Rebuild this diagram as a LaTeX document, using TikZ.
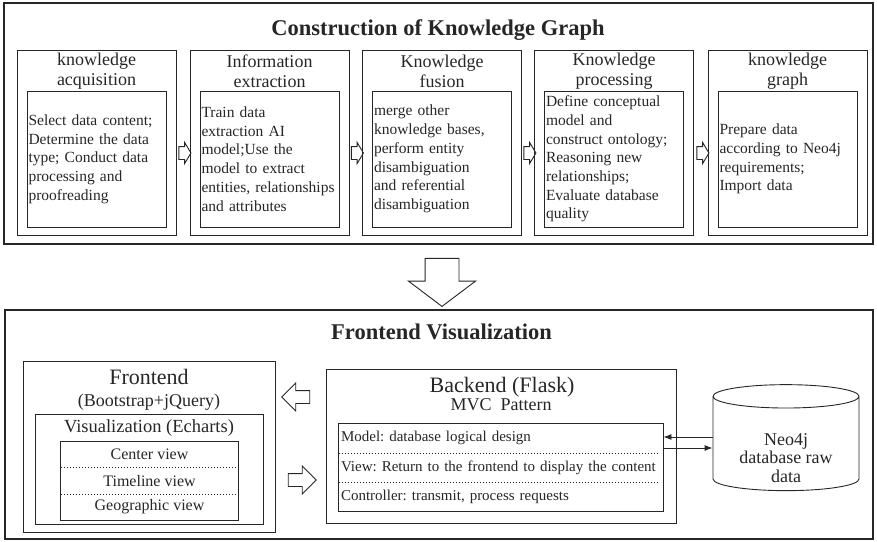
\documentclass[tikz,border=0pt]{standalone}
\usepackage{fontspec}
\setmainfont{Liberation Serif}
\usetikzlibrary{positioning,calc,arrows.meta,shapes.arrows,shapes.geometric}
\frenchspacing
\hyphenpenalty=10000

\begin{document}
\begin{tikzpicture}[x=1pt, y=-1pt, line width=0.9pt, color=black!85,
  frame/.style={draw, line width=1.1pt, inner sep=0pt},
  stage/.style={draw, minimum width=159pt, minimum height=185pt, inner sep=0pt},
  stagehead/.style={align=center, inner sep=0pt, font=\fontsize{18}{20}\selectfont},
  stagetext/.style={draw, minimum width=139pt, minimum height=136pt, text width=136pt, inner xsep=1.5pt, align=left, font=\fontsize{15.5}{18.7}\selectfont},
  smallarrow/.style={draw, single arrow, single arrow tip angle=118, single arrow head extend=4pt, inner xsep=0pt, inner ysep=6pt, minimum height=12pt},
  bigarrow/.style={draw, single arrow, single arrow tip angle=106, single arrow head extend=16.5pt, inner xsep=0pt, inner ysep=16.5pt, minimum height=48pt, rotate=-90},
  sidearrow/.style={draw, single arrow, single arrow tip angle=90, single arrow head extend=7.5pt, inner xsep=0pt, inner ysep=6pt, minimum height=28pt},
  title/.style={inner sep=0pt, font=\fontsize{22.5}{26}\selectfont\bfseries},
  box/.style={draw, inner sep=0pt},
  viewrow/.style={minimum width=177pt, minimum height=25.3pt, inner sep=0pt, font=\fontsize{16}{18}\selectfont},
  mvcrow/.style={minimum width=324pt, minimum height=28.3pt, text width=320pt, inner xsep=2pt, inner ysep=0pt, align=left, font=\fontsize{15}{17}\selectfont},
  sep/.style={line width=0.6pt, dash pattern=on 1.5pt off 1.5pt},
  link/.style={-{Latex[length=8pt,width=6pt]}}]
\useasboundingbox (0,0) rectangle (877,541);

\coordinate (KA) at (96.5,142.5);
\coordinate (IE) at (269.5,142.5);
\coordinate (KF) at (442,142.5);
\coordinate (KP) at (614,142.5);
\coordinate (KG) at (787.5,142.5);

\node [frame, minimum width=869pt, minimum height=241pt] (top) at (438.5,123.5) {};
\node [title] (toptitle) at (438,30) {Construction of Knowledge Graph};

\node [stage] (ka) at (KA) {};
\node [stage] (ie) at (IE) {};
\node [stage] (kf) at (KF) {};
\node [stage] (kp) at (KP) {};
\node [stage] (kg) at (KG) {};

\node [stagehead] (kah) at (96.5,71) {knowledge\\acquisition};
\node [stagehead] (ieh) at (269.5,71) {Information\\extraction};
\node [stagehead] (kfh) at (442,71) {Knowledge\\fusion};
\node [stagehead] (kph) at (614,71) {Knowledge\\processing};
\node [stagehead] (kgh) at (787.5,71) {knowledge\\graph};

\node [stagetext] (kat) at (96.5,159) {Select data content;\\Determine the data\\type; Conduct data\\processing and\\proofreading};
\node [stagetext] (iet) at (269.5,159) {Train data\\extraction AI\\model;Use the\\model to extract\\entities, relationships\\and attributes};
\node [stagetext] (kft) at (442,159) {merge other\\knowledge bases,\\perform entity\\disambiguation\\and referential\\disambiguation};
\node [stagetext] (kpt) at (614,159) {Define conceptual\\model and\\construct ontology;\\Reasoning new\\relationships;\\Evaluate database\\quality};
\node [stagetext] (kgt) at (787.5,159) {Prepare data\\according to Neo4j\\requirements;\\Import data};

\node [smallarrow] (a1) at (183,153) {};
\node [smallarrow] (a2) at (355.5,153) {};
\node [smallarrow] (a3) at (528,153) {};
\node [smallarrow] (a4) at (701,153) {};

\node [bigarrow] (down) at (442,276) {};

\node [frame, minimum width=868pt, minimum height=229pt] (bottom) at (439,424.5) {};
\node [title] (bottomtitle) at (441.5,332) {Frontend Visualization};

\node [box, minimum width=252pt, minimum height=171pt] (fe) at (149,446.5) {};
\node [font=\fontsize{22}{24}\selectfont, inner sep=0pt] (fename) at (149,377) {Frontend};
\node [font=\fontsize{18}{20}\selectfont, inner sep=0pt] (felib) at (149,402) {(Bootstrap+jQuery)};
\node [box, minimum width=228pt, minimum height=110pt] (vis) at (149,469) {};
\node [font=\fontsize{18.5}{20}\selectfont, inner sep=0pt] (visname) at (149,428) {Visualization (Echarts)};

\node [viewrow] (cv) at (149.5,454.5) {Center view};
\node [viewrow, below=0pt of cv] (tv) {Timeline view};
\node [viewrow, below=0pt of tv] (gv) {Geographic view};
\draw (cv.north west) rectangle (gv.south east);
\draw [sep] (cv.south west) -- (cv.south east);
\draw [sep] (tv.south west) -- (tv.south east);

\node [box, minimum width=350pt, minimum height=154pt] (be) at (501,446) {};
\node [font=\fontsize{22}{24}\selectfont, inner sep=0pt] (bename) at (502,387) {Backend (Flask)};
\node [font=\fontsize{18}{20}\selectfont, inner sep=0pt] (bemvc) at (501,405) {MVC\ \ Pattern};

\node [mvcrow] (m1) at (501,438.2) {Model: database logical design};
\node [mvcrow, below=0pt of m1] (m2) {View: Return to the frontend to display the content};
\node [mvcrow, below=0pt of m2] (m3) {Controller: transmit, process requests};
\draw (m1.north west) rectangle (m3.south east);
\draw [sep] (m1.south west) -- ([xshift=-6pt]m1.south east);
\draw [sep] (m2.south west) -- ([xshift=-6pt]m2.south east);

\node [sidearrow, rotate=180] (toleft) at (299,397) {};
\node [sidearrow] (toright) at (299,480) {};

\node [draw, cylinder, shape border rotate=90, aspect=0.16, text width=139pt, inner xsep=3.5pt, minimum height=106pt] (db) at (786,445.5) {};
\node [align=center, inner sep=0pt, font=\fontsize{18}{18.5}\selectfont] (dbname) at (786,458) {Neo4j\\database raw\\data};

\coordinate (up) at (0,437);
\coordinate (dn) at (0,448);
\draw [link] (db.west |- up) -- (m1.east |- up);
\draw [link] (m1.east |- dn) -- (db.west |- dn);

\end{tikzpicture}
\end{document}
